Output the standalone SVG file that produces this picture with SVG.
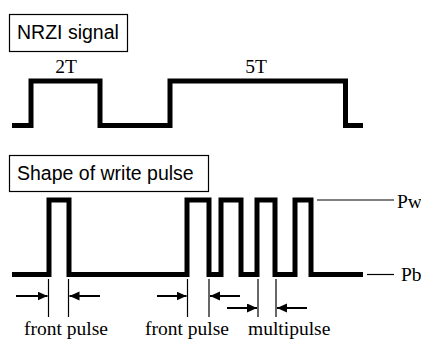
<svg xmlns="http://www.w3.org/2000/svg" width="421" height="340" viewBox="0 0 421 340">
  <style>
    .wave { fill: none; stroke: #000; stroke-width: 5; stroke-linejoin: miter; stroke-linecap: butt; }
    .box { fill: #fff; stroke: #000; stroke-width: 1.2; }
    .sans { font-family: "Liberation Sans", Arial, sans-serif; font-size: 19.5px; fill: #000; }
    .serif { font-family: "Liberation Serif", "Times New Roman", serif; font-size: 19.5px; fill: #000; }
    .thin { stroke: #000; stroke-width: 1.2; fill: none; }
    .arrow { stroke: #000; stroke-width: 2; fill: none; marker-end: url(#head); }
  </style>
  <defs>
    <marker id="head" markerUnits="userSpaceOnUse" markerWidth="11" markerHeight="10" refX="10" refY="4.5" orient="auto">
      <path d="M0,0 L10,4.5 L0,9 Z" fill="#000"/>
    </marker>
  </defs>
  <rect width="421" height="340" fill="#fff"/>

  <!-- NRZI signal -->
  <g id="nrzi-label">
    <rect class="box" x="9.5" y="14.5" width="118" height="37"/>
    <text class="sans" x="17" y="39">NRZI signal</text>
  </g>
  <g id="nrzi-wave">
    <path class="wave" d="M12,125.5 H31 V81 H100 V125.5 H170 V81 H345.5 V125.5 H363"/>
    <text class="serif" x="66" y="73" text-anchor="middle">2T</text>
    <text class="serif" x="256" y="73" text-anchor="middle">5T</text>
  </g>

  <!-- write pulse -->
  <g id="pulse-label">
    <rect class="box" x="9.5" y="155.5" width="199" height="36"/>
    <text class="sans" x="17" y="180">Shape of write pulse</text>
  </g>
  <g id="pulse-wave">
    <path class="wave" d="M12,274.5 H49 V200 H69 V274.5 H187 V200 H209 V274.5 H221 V200 H241 V274.5 H257 V200 H275 V274.5 H295 V200 H311 V274.5 H363"/>
  </g>
  <g id="levels">
    <line class="thin" x1="317" y1="200" x2="394" y2="200"/>
    <text class="serif" x="397" y="208">Pw</text>
    <line class="thin" x1="367" y1="274.5" x2="394" y2="274.5"/>
    <text class="serif" x="401" y="281">Pb</text>
  </g>

  <!-- pulse width markers -->
  <g id="connectors">
    <line class="thin" x1="48.5" y1="279" x2="48.5" y2="317"/>
    <line class="thin" x1="68.5" y1="279" x2="68.5" y2="317"/>
    <line class="thin" x1="187.5" y1="279" x2="187.5" y2="317"/>
    <line class="thin" x1="209" y1="279" x2="209" y2="317"/>
    <line class="thin" x1="258" y1="279" x2="258" y2="317"/>
    <line class="thin" x1="276" y1="279" x2="276" y2="317"/>
    <line class="arrow" x1="16" y1="296" x2="47.5" y2="296"/>
    <line class="arrow" x1="100" y1="296" x2="69.5" y2="296"/>
    <line class="arrow" x1="157" y1="296" x2="186.5" y2="296"/>
    <line class="arrow" x1="240" y1="296" x2="210" y2="296"/>
    <line class="arrow" x1="227" y1="308" x2="257" y2="308"/>
    <line class="arrow" x1="307" y1="308" x2="277" y2="308"/>
  </g>
  <g id="captions">
    <text class="serif" x="24" y="335">front pulse</text>
    <text class="serif" x="145" y="335">front pulse</text>
    <text class="serif" x="248" y="335">multipulse</text>
  </g>
</svg>
